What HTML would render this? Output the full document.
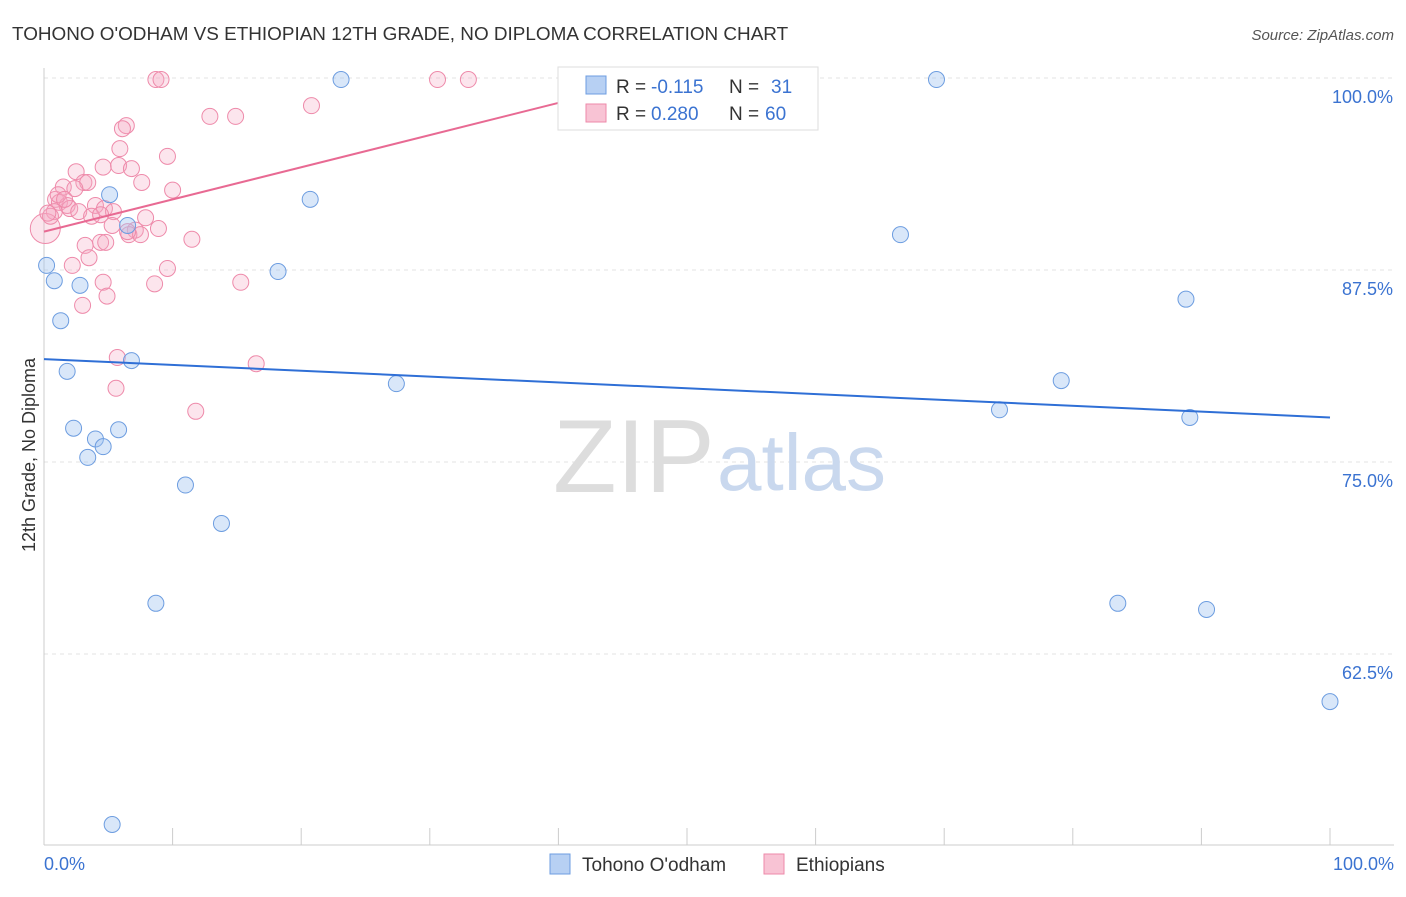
<!DOCTYPE html>
<html><head><meta charset="utf-8"><style>
body{margin:0;background:#fff;font-family:"Liberation Sans",sans-serif;}
svg text{font-family:"Liberation Sans",sans-serif;}
</style></head><body>
<svg width="1406" height="892">
<text x="12" y="40" font-size="18.9" fill="#333">TOHONO O'ODHAM VS ETHIOPIAN 12TH GRADE, NO DIPLOMA CORRELATION CHART</text>
<text x="1394" y="40" font-size="15" fill="#555" text-anchor="end" font-style="italic">Source: ZipAtlas.com</text>
<g id="grid"></g>
<text x="553" y="492" font-size="104" fill="#ddd" font-family="Liberation Serif">ZIP</text>
<text x="717" y="490" font-size="80" fill="#c9d8ee">atlas</text>
<text transform="translate(35,455) rotate(-90)" font-size="18" fill="#333" text-anchor="middle">12th Grade, No Diploma</text>
<text x="44" y="870" font-size="18" fill="#3b73d1">0.0%</text>
<text x="1394" y="870" font-size="18" fill="#3b73d1" text-anchor="end">100.0%</text>
<g id="marks"></g>
<g>
<rect x="558" y="67" width="260" height="63" fill="#fff" stroke="#ddd"/>
<rect x="586" y="76" width="20" height="18" fill="#b7d0f3" stroke="#6d9de0"/>
<rect x="586" y="104" width="20" height="18" fill="#f8c3d4" stroke="#ee8aaa"/>
<text x="616" y="93" font-size="19" fill="#333">R =</text>
<text x="651" y="93" font-size="19" fill="#3b73d1">-0.115</text>
<text x="729" y="93" font-size="19" fill="#333">N =</text>
<text x="771" y="93" font-size="19" fill="#3b73d1">31</text>
<text x="616" y="120" font-size="19" fill="#333">R =</text>
<text x="651" y="120" font-size="19" fill="#3b73d1">0.280</text>
<text x="729" y="120" font-size="19" fill="#333">N =</text>
<text x="765" y="120" font-size="19" fill="#3b73d1">60</text>
</g>
<g>
<rect x="550" y="854" width="20" height="20" fill="#b7d0f3" stroke="#6d9de0"/>
<text x="582" y="871" font-size="19" fill="#333">Tohono O'odham</text>
<rect x="764" y="854" width="20" height="20" fill="#f8c3d4" stroke="#ee8aaa"/>
<text x="796" y="871" font-size="19" fill="#333">Ethiopians</text>
</g>
</svg>
<script>
const yTicks=[100,87.5,75,62.5];
const yTickLabels=["100.0%","87.5%","75.0%","62.5%"];
const xTicks=[0,10,20,30,40,50,60,70,80,90,100];
const blueX=[23.1,47.7,69.4,5.1,20.7,6.5,66.6,0.2,18.2,0.8,2.8,88.8,1.3,6.8,1.8,27.4,79.1,74.3,89.1,2.3,5.8,4.0,4.6,3.4,11.0,13.8,8.7,83.5,90.4,100,5.3];
const blueY=[99.9,99.9,99.9,92.4,92.1,90.4,89.8,87.8,87.4,86.8,86.5,85.6,84.2,81.6,80.9,80.1,80.3,78.4,77.9,77.2,77.1,76.5,76.0,75.3,73.5,71.0,65.8,65.8,65.4,59.4,51.4];
const pinkX=[8.7,9.1,30.6,33.0,20.8,12.9,14.9,6.4,6.1,5.9,9.6,4.6,5.8,6.8,2.5,3.1,3.4,7.6,10.0,1.5,2.4,0.9,1.2,1.8,2.0,0.8,2.7,4.0,4.7,5.4,3.7,7.9,5.3,8.9,7.1,6.6,7.5,0.1,0.5,11.5,4.4,3.2,4.8,3.5,2.2,9.6,8.6,15.3,4.6,4.9,3.0,5.7,16.5,5.6,11.8,1.1,1.6,4.4,6.5,0.3];
const pinkY=[99.9,99.9,99.9,99.9,98.2,97.5,97.5,96.9,96.7,95.4,94.9,94.2,94.3,94.1,93.9,93.2,93.2,93.2,92.7,92.9,92.8,92.1,91.9,91.7,91.5,91.3,91.3,91.7,91.5,91.3,91.0,90.9,90.4,90.2,90.1,89.8,89.8,90.2,91.0,89.5,89.3,89.1,89.3,88.3,87.8,87.6,86.6,86.7,86.7,85.8,85.2,81.8,81.4,79.8,78.3,92.4,92.1,91.1,90.0,91.2];
const blueTrendX=[0,100], blueTrendY=[81.7,77.9];
const pinkTrendX=[0,40.1], pinkTrendY=[90.0,98.4];
const X=v=>44+v*12.86, Y=v=>78+(100-v)*15.36;
const NS="http://www.w3.org/2000/svg";
const grid=document.getElementById('grid'), marks=document.getElementById('marks');
function mk(p,tag,a){const e=document.createElementNS(NS,tag);for(const k in a)e.setAttribute(k,a[k]);p.appendChild(e);return e;}
yTicks.forEach((t,i)=>{
 const l=mk(grid,'line',{x1:44,x2:1394,y1:Y(t),y2:Y(t),stroke:'#e3e3e3','stroke-dasharray':'4,4'});
 
 
 const tx=mk(grid,'text',{x:1393,y:Y(t)+25,'font-size':18,fill:'#3b73d1','text-anchor':'end'});
 tx.textContent=yTickLabels[i];
 
 
});
const ax=mk(grid,'line',{x1:44,x2:1394,y1:845,y2:845,stroke:'#ccc'});


const ay=mk(grid,'line',{x1:44,x2:44,y1:68,y2:845,stroke:'#ccc'});


xTicks.forEach(t=>{
 const l=mk(grid,'line',{x1:X(t),x2:X(t),y1:828,y2:845,stroke:'#ccc'});
 
 
});
pinkX.forEach((x,i)=>{
 const c=mk(marks,'circle',{cx:X(x),cy:Y(pinkY[i]),r:i==37?15:8,fill:'rgba(245,170,195,0.3)',stroke:'#ee8aaa','stroke-width':1});
 
 
});
blueX.forEach((x,i)=>{
 const c=mk(marks,'circle',{cx:X(x),cy:Y(blueY[i]),r:8,fill:'rgba(160,195,240,0.4)',stroke:'#6d9de0','stroke-width':1});
 
 
});
const bl=mk(marks,'line',{x1:X(blueTrendX[0]),y1:Y(blueTrendY[0]),x2:X(blueTrendX[1]),y2:Y(blueTrendY[1]),stroke:'#2f6fd6','stroke-width':2});


const pl=mk(marks,'line',{x1:X(pinkTrendX[0]),y1:Y(pinkTrendY[0]),x2:X(pinkTrendX[1]),y2:Y(pinkTrendY[1]),stroke:'#e86a93','stroke-width':2});


</script>
</body></html>
